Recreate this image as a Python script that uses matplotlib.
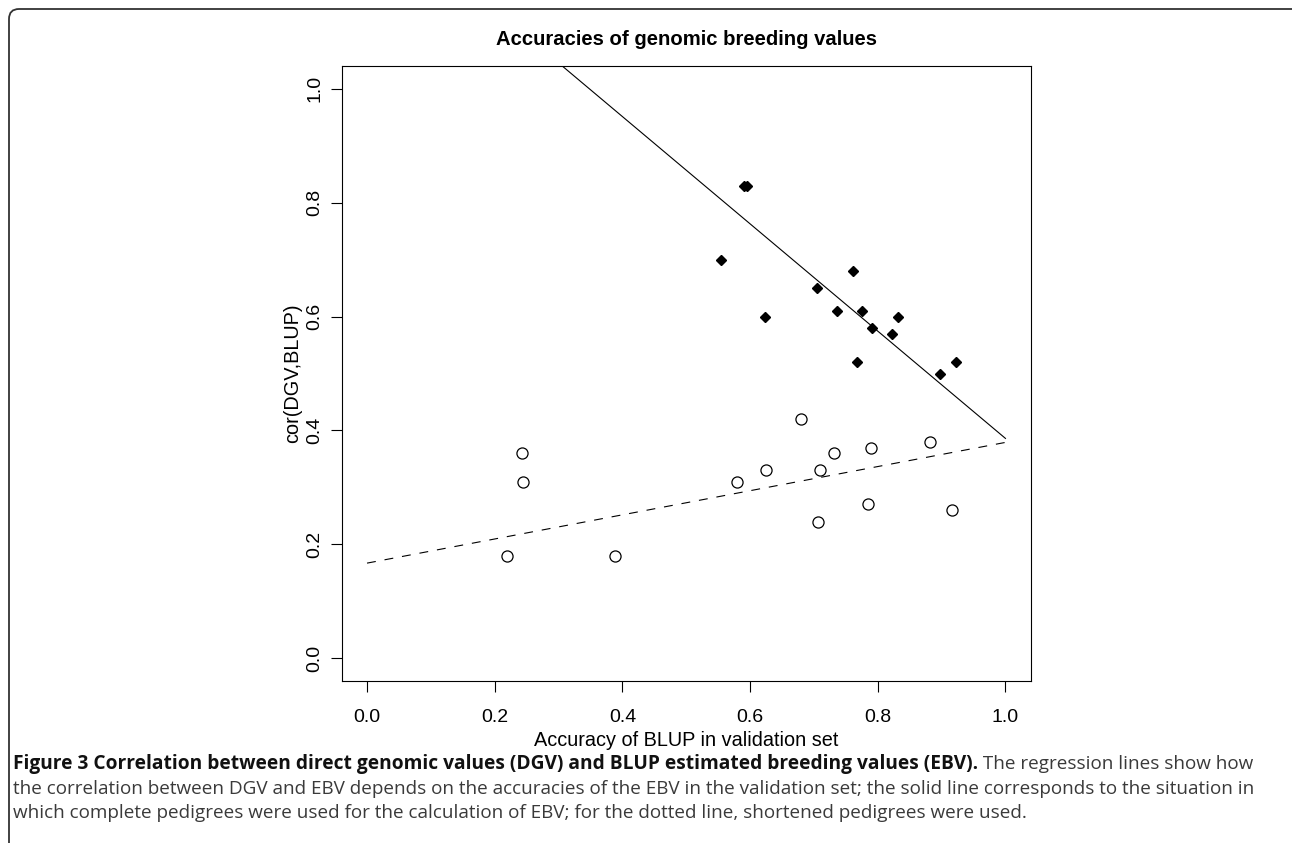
import numpy as np
import matplotlib.pyplot as plt
from matplotlib.patches import FancyBboxPatch
from matplotlib.transforms import IdentityTransform

plt.rcParams['font.family'] = ['Liberation Sans', 'DejaVu Sans']

# complete pedigrees (filled diamonds)
acc_full = [0.554, 0.591, 0.595, 0.624, 0.705, 0.736, 0.761, 0.768, 0.776, 0.791, 0.822, 0.832, 0.898, 0.922]
cor_full = [0.70, 0.83, 0.83, 0.60, 0.65, 0.61, 0.68, 0.52, 0.61, 0.58, 0.57, 0.60, 0.50, 0.52]

# shortened pedigrees (open circles)
acc_short = [0.219, 0.242, 0.244, 0.389, 0.579, 0.625, 0.679, 0.707, 0.709, 0.731, 0.784, 0.790, 0.882, 0.917]
cor_short = [0.18, 0.36, 0.31, 0.18, 0.31, 0.33, 0.42, 0.24, 0.33, 0.36, 0.27, 0.37, 0.38, 0.26]

# regression lines (intercept, slope), drawn over 0..1
fit_full = (1.328, -0.942)
fit_short = (0.167, 0.212)

ticks = [0.0, 0.2, 0.4, 0.6, 0.8, 1.0]
tick_labels = ['0.0', '0.2', '0.4', '0.6', '0.8', '1.0']

W, H = 1292, 843
fig = plt.figure(figsize=(W / 100, H / 100), dpi=100)
ax = fig.add_axes([341.5 / W, 1 - 681 / H, 689.5 / W, 615 / H])

xs = np.array([0.0, 1.0])
ax.plot(xs, fit_full[0] + fit_full[1] * xs, color='black', lw=0.8)
ax.plot(xs, fit_short[0] + fit_short[1] * xs, color='black', lw=0.8, dashes=(8, 8))

ax.plot(acc_full, cor_full, 'D', color='black', markersize=5.5, linestyle='none')
ax.plot(acc_short, cor_short, 'o', markerfacecolor='white', markeredgecolor='black',
        markersize=8, markeredgewidth=0.9, linestyle='none')

ax.set_xlim(-0.04, 1.04)
ax.set_ylim(-0.04, 1.04)
ax.set_xticks(ticks)
ax.set_xticklabels(tick_labels)
ax.set_yticks(ticks)
ax.set_yticklabels(tick_labels, rotation=90, va='center')
ax.tick_params(direction='out', length=8, width=0.8, labelsize=14)
ax.tick_params(axis='x', pad=12)
ax.tick_params(axis='y', pad=5)
for s in ax.spines.values():
    s.set_linewidth(0.8)

ax.set_xlabel('Accuracy of BLUP in validation set', fontsize=14.3, labelpad=4)
ax.set_ylabel('cor(DGV,BLUP)', fontsize=14.3, labelpad=3)
ax.set_title('Accuracies of genomic breeding values', fontsize=14.6,
             fontweight='bold', pad=15)

# rounded frame round the whole figure
frame = FancyBboxPatch((9, -20), 1300, 843 - 9 + 20,
                       boxstyle='round,pad=0,rounding_size=10',
                       transform=IdentityTransform(), fill=False,
                       edgecolor='#333333', linewidth=1.3)
fig.patches.append(frame)

# caption
cap_font = ['Open Sans', 'DejaVu Sans']
cap_size = 13.6
bold_part = 'Figure 3 Correlation between direct genomic values (DGV) and BLUP estimated breeding values (EBV).'
rest_part = ' The regression lines show how'
line2 = ('the correlation between DGV and EBV depends on the accuracies of the EBV in the '
         'validation set; the solid line corresponds to the situation in')
line3 = ('which complete pedigrees were used for the calculation of EBV; for the dotted '
         'line, shortened pedigrees were used.')

x0 = 13 / W
t1 = fig.text(x0, 1 - 764 / H, bold_part, family=cap_font, fontsize=13.8,
              fontweight='bold', color='#111111', va='center')
fig.canvas.draw()
bb = t1.get_window_extent(renderer=fig.canvas.get_renderer())
fig.text(bb.x1 / W, 1 - 764 / H, rest_part, family=cap_font, fontsize=cap_size,
         color='#3a3a3a', va='center')
fig.text(x0, 1 - 789 / H, line2, family=cap_font, fontsize=cap_size,
         color='#3a3a3a', va='center')
fig.text(x0, 1 - 813 / H, line3, family=cap_font, fontsize=cap_size,
         color='#3a3a3a', va='center')

fig.savefig('out.png', dpi=100)
